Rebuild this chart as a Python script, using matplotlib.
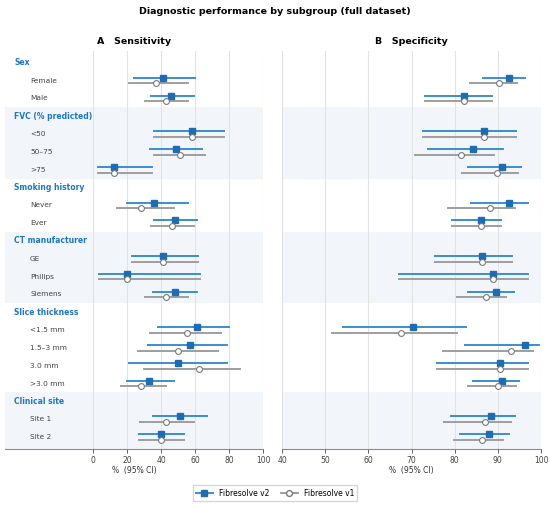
import matplotlib
matplotlib.use("Agg")
import matplotlib.pyplot as plt
from matplotlib.lines import Line2D

groups = ["Sex", "FVC (% predicted)", "Smoking history", "CT manufacturer",
          "Slice thickness", "Clinical site"]
subgroups = [
    ["Female", "Male"],
    ["<50", "50–75", ">75"],
    ["Never", "Ever"],
    ["GE", "Philips", "Siemens"],
    ["<1.5 mm", "1.5–3 mm", "3.0 mm", ">3.0 mm"],
    ["Site 1", "Site 2"],
]

# sensitivity (point, lo, hi), in subgroup order
sens_v2 = [41, 46, 58, 49, 12, 36, 48, 41, 20, 48, 61, 57, 50, 33, 51, 40]
sens_v2_lo = [24, 34, 36, 33.5, 3, 20, 35.5, 23, 3.3, 35.3, 38, 32, 21, 20, 35.3, 26.7]
sens_v2_hi = [60, 59.5, 77, 64, 34.5, 55.7, 61, 61.6, 62.7, 61.2, 80, 78.8, 78.6, 47.6, 67.3, 53.7]
sens_v1 = [37, 42.7, 58, 51.2, 12, 28, 46.5, 41, 20, 42.7, 55.5, 50, 62.4, 28, 42.7, 40]
sens_v1_lo = [21, 30.6, 36, 36, 3, 14, 34, 23, 3.3, 30.6, 33.5, 26.5, 30, 16.5, 27.6, 26.7]
sens_v1_hi = [56, 56, 77, 66, 34.5, 47.6, 59.4, 61.6, 62.7, 56, 75.5, 73.3, 86.5, 42.7, 59.2, 53.7]

# specificity
spec_v2 = [92.6, 82.1, 86.8, 84.3, 90.9, 92.6, 86, 86.4, 88.9, 89.5, 70.3, 96.4, 90.6, 90.9, 88.4, 87.9]
spec_v2_lo = [86.5, 73.1, 72.6, 73.9, 83, 83.8, 79.3, 75.4, 67.1, 83, 54.2, 82.3, 75.8, 84.2, 79.2, 81.3]
spec_v2_hi = [96.2, 88.6, 94.3, 91.2, 95.4, 97, 90.7, 93.2, 97, 93.7, 82.6, 99.6, 97, 95, 93.9, 92.5]
spec_v1 = [90.2, 82.1, 86.8, 81.4, 89.8, 88.2, 86, 86.4, 88.9, 87.2, 67.6, 93, 90.6, 90.1, 87.1, 86.4]
spec_v1_lo = [83.6, 73.1, 72.6, 70.7, 81.6, 78.5, 79.3, 75.4, 67.1, 80.5, 51.5, 77.4, 75.8, 83.2, 77.6, 79.8]
spec_v1_hi = [94.4, 88.6, 94.3, 89, 94.6, 94, 90.7, 93.2, 97, 92, 80.6, 98.1, 97, 94.3, 93, 91.2]

BLUE = "#1f6db0"
BLUE_LINE = "#3b8ed0"
GRAY = "#9e9e9e"
GRAY_EDGE = "#7a7a7a"
HEAD = "#1f77c0"
BAND = "#f2f6fb"

# row layout
rows = []        # (kind, text, group index)
item_rows = []
for gi, (g, subs) in enumerate(zip(groups, subgroups)):
    rows.append(("h", g, gi))
    for s in subs:
        item_rows.append(len(rows))
        rows.append(("i", s, gi))
nrows = len(rows)
ylo, yhi = -0.66, nrows - 1 + 0.67

fig = plt.figure(figsize=(5.5, 5.05), dpi=100)
axA = fig.add_axes([5 / 550, 1 - 449 / 505, 258 / 550, 398 / 505])
axB = fig.add_axes([282 / 550, 1 - 449 / 505, 259 / 550, 398 / 505])

off = 0.16


def draw(ax, p2, l2, h2, p1, l1, h1, xlim, ticks):
    ax.set_xlim(*xlim)
    ax.set_ylim(yhi, ylo)
    # shaded group bands
    start = 0
    for gi, subs in enumerate(subgroups):
        end = start + len(subs)
        if gi % 2 == 1:
            top = end + 0.5 if gi < len(groups) - 1 else yhi
            ax.axhspan(start - 0.5, top, color=BAND, zorder=0, lw=0)
        start = end + 1
    for t in ticks:
        ax.axvline(t, color="#e3e3e3", lw=0.8, zorder=0.5)
    for k, r in enumerate(item_rows):
        ax.plot([l2[k], h2[k]], [r - off, r - off], color=BLUE_LINE, lw=1.4, zorder=2)
        ax.plot(p2[k], r - off, marker="s", ms=4.2, color=BLUE, mec=BLUE, zorder=3)
        ax.plot([l1[k], h1[k]], [r + off, r + off], color=GRAY, lw=1.4, zorder=2)
        ax.plot(p1[k], r + off, marker="o", ms=4.2, mfc="white", mec=GRAY_EDGE,
                mew=0.8, zorder=3)
    ax.set_xticks(ticks)
    ax.set_yticks([])
    for s in ["top", "left", "right"]:
        ax.spines[s].set_visible(False)
    ax.spines["bottom"].set_color("#8a8a8a")
    ax.tick_params(axis="x", labelsize=5.5, colors="#444444", length=3, width=0.6, pad=2)
    ax.set_xlabel("%  (95% CI)", fontsize=5.5, color="#333333", labelpad=1)
    ax.set_facecolor("white")


draw(axA, sens_v2, sens_v2_lo, sens_v2_hi, sens_v1, sens_v1_lo, sens_v1_hi,
     (-52, 100), [0, 20, 40, 60, 80, 100])
draw(axB, spec_v2, spec_v2_lo, spec_v2_hi, spec_v1, spec_v1_lo, spec_v1_hi,
     (40, 100), [40, 50, 60, 70, 80, 90, 100])

for r, (kind, text, gi) in enumerate(rows):
    if kind == "h":
        axA.text(0.035, r, text, transform=axA.get_yaxis_transform(), fontsize=5.5,
                 fontweight="bold", color=HEAD, va="center", ha="left")
    else:
        axA.text(0.097, r, text, transform=axA.get_yaxis_transform(), fontsize=5.3,
                 color="#444444", va="center", ha="left")

axA.set_title("A   Sensitivity", fontsize=6.8, fontweight="bold", pad=5)
axB.set_title("B   Specificity", fontsize=6.8, fontweight="bold", pad=5)
fig.text(0.5, 1 - 11 / 505, "Diagnostic performance by subgroup (full dataset)",
         ha="center", va="center", fontsize=6.8, fontweight="bold")

handles = [
    Line2D([], [], color=BLUE_LINE, lw=1.4, marker="s", ms=4.2, mfc=BLUE, mec=BLUE),
    Line2D([], [], color=GRAY, lw=1.4, marker="o", ms=4.2, mfc="white", mec=GRAY_EDGE),
]
fig.legend(handles, ["Fibresolve v2", "Fibresolve v1"], loc="center",
           bbox_to_anchor=(0.5, 1 - 493 / 505), ncol=2, fontsize=5.5,
           frameon=True, edgecolor="#cccccc", fancybox=False, handlelength=2.2,
           columnspacing=1.5)

fig.savefig("out.png", dpi=100)
